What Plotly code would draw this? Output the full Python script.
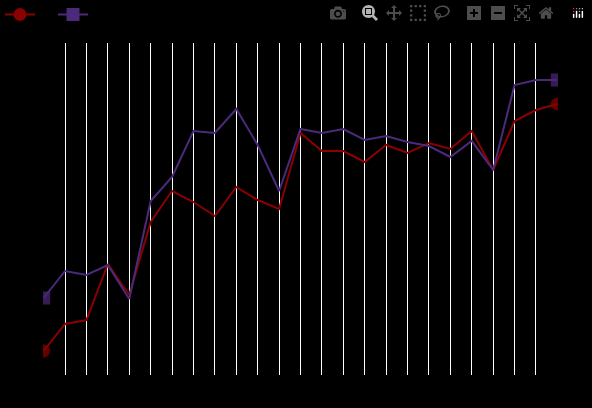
import plotly.graph_objects as go

x = list(range(25))
red = [49, 76, 80, 136, 105, 178, 209, 198, 184, 213, 200, 191, 267, 249, 249, 238, 255, 247, 257, 251, 269, 230, 279, 290, 296]
purple = [102, 129, 125, 135, 101, 199, 223, 269, 267, 291, 255, 209, 271, 267, 271, 260, 264, 258, 254, 243, 259, 230, 315, 320, 320]
names = ["A", "B"]
colors = ["#8b0000", "#4b2a7b"]
symbols = ["circle", "square"]

def ends(n, s):
    return [s if i in (0, n - 1) else 0 for i in range(n)]

fig = go.Figure()
for name, ys, c, sym in zip(names, [red, purple], colors, symbols):
    fig.add_trace(go.Scatter(x=x, y=ys, mode="lines+markers", showlegend=False,
                             line=dict(color=c, width=2),
                             marker=dict(symbol=sym, size=ends(25, 13), color=c, line=dict(width=0))))
    # legend entry with a full-size marker
    fig.add_trace(go.Scatter(x=[None], y=[None], mode="lines+markers", name=name,
                             line=dict(color=c, width=2),
                             marker=dict(symbol=sym, size=13, color=c, line=dict(width=0))))

fig.update_layout(
    width=592, height=408, paper_bgcolor="black", plot_bgcolor="black",
    margin=dict(l=43, r=34, t=43, b=33),
    legend=dict(orientation="h", x=0, y=1, xref="container", yref="container",
                xanchor="left", yanchor="top", itemwidth=30,
                font=dict(color="black", size=12), bgcolor="rgba(0,0,0,0)"),
    xaxis=dict(range=[-0.03, 24.03], showgrid=True, gridcolor="white", gridwidth=1,
               dtick=1, showticklabels=False, zeroline=False, showline=False),
    yaxis=dict(range=[25, 357], showgrid=False, showticklabels=False, zeroline=False),
)
fig.write_html("out.html", post_script="document.body.style.margin='0';document.body.style.background='black';")
